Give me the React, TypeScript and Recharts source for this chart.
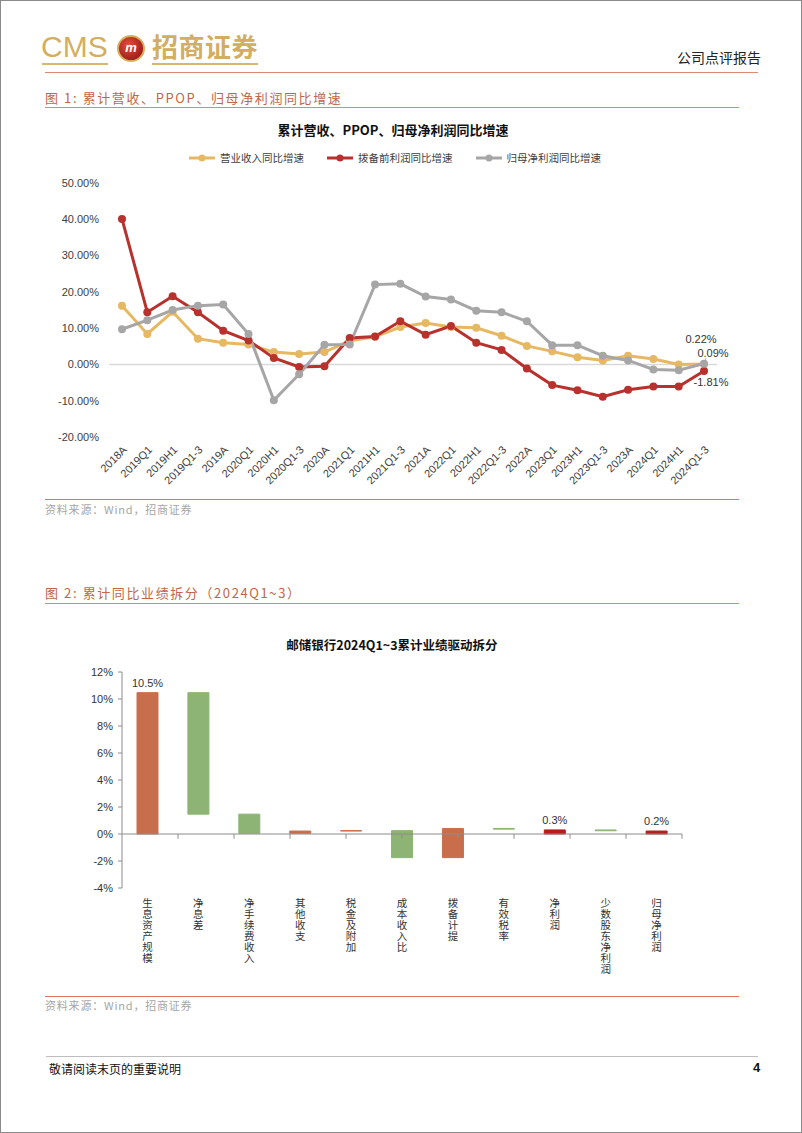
import React from 'react';
import { LineChart, Line, XAxis, YAxis, ReferenceLine, BarChart, Bar, Cell, LabelList } from 'recharts';

// 图1: 累计同比增速 (%)
const periods = [
  '2018A', '2019Q1', '2019H1', '2019Q1-3', '2019A', '2020Q1', '2020H1', '2020Q1-3',
  '2020A', '2021Q1', '2021H1', '2021Q1-3', '2021A', '2022Q1', '2022H1', '2022Q1-3',
  '2022A', '2023Q1', '2023H1', '2023Q1-3', '2023A', '2024Q1', '2024H1', '2024Q1-3',
];
const revenueYoy = [16.2, 8.4, 14.5, 7.1, 6.0, 5.5, 3.4, 2.9, 3.4, 6.5, 7.6, 10.3, 11.4, 10.3, 10.1, 7.9, 5.1, 3.6, 2.0, 1.1, 2.4, 1.5, 0.0, 0.09];
const ppopYoy = [40.1, 14.4, 18.8, 14.4, 9.3, 6.6, 1.8, -0.7, -0.5, 7.3, 7.7, 11.9, 8.2, 10.6, 6.0, 4.0, -1.1, -5.7, -7.1, -8.9, -7.0, -6.1, -6.1, -1.81];
const netProfitYoy = [9.7, 12.2, 15.0, 16.2, 16.5, 8.4, -9.9, -2.7, 5.4, 5.5, 22.0, 22.2, 18.7, 17.9, 14.8, 14.4, 11.9, 5.3, 5.3, 2.4, 1.1, -1.4, -1.6, 0.22];
const lineTicks = [-20, -10, 0, 10, 20, 30, 40, 50];

// 图2: 业绩驱动拆分 (%)
const driverNames = ['生息资产规模', '净息差', '净手续费收入', '其他收支', '税金及附加', '成本收入比', '拨备计提', '有效税率', '净利润', '少数股东净利润', '归母净利润'];
const driverValues = [10.47, -9.0, -1.42, 0.17, 0.03, -2.0, 2.16, -0.05, 0.3, -0.06, 0.22];
const driverKinds = ['step', 'step', 'step', 'step', 'step', 'step', 'step', 'step', 'total', 'step', 'total'];
const driverLabels = ['10.5%', '', '', '', '', '', '', '', '0.3%', '', '0.2%'];
const barTicks = [-4, -2, 0, 2, 4, 6, 8, 10, 12];

const YELLOW = '#E6B862';
const RED = '#B8312D';
const GRAY = '#A6A6A6';
const UP = '#C96E4D';
const DOWN = '#8DB475';
const TOTAL = '#B71C1C';
const LINE = '#DB8A70';

const NUM_FONT = '"Liberation Sans", Arial, sans-serif';
const CJK_FONT = '"Noto Sans CJK SC", "Noto Sans", sans-serif';

const lineData = periods.map((p, i) => ({
  period: p,
  revenue: revenueYoy[i],
  ppop: ppopYoy[i],
  net: netProfitYoy[i],
}));

let running = 0;
const barData = driverNames.map((name, i) => {
  const v = driverValues[i];
  let range: number[];
  if (driverKinds[i] === 'total') {
    range = [0, v];
    running = v;
  } else {
    range = [running, running + v];
    running += v;
  }
  const color = driverKinds[i] === 'total' ? TOTAL : v >= 0 ? UP : DOWN;
  return { name, range, label: driverLabels[i], color };
});

const endLabel = (dx: number, dy: number, leader = false) => (props: any) => {
  const { x, y, value, index } = props;
  if (index !== periods.length - 1) return null;
  return (
    <g>
      {leader && <line x1={x + 2} y1={y + dy + 4} x2={x + 1} y2={y - 3} stroke="#999" strokeWidth={0.8} />}
      <text x={x + dx} y={y + dy} textAnchor="middle" dominantBaseline="middle" fontSize={11} fill="#333" fontFamily={NUM_FONT}>
        {`${value.toFixed(2)}%`}
      </text>
    </g>
  );
};

// category names are written top-to-bottom
const VerticalTick = (props: any) => {
  const { x, y, payload } = props;
  return (
    <text x={x} y={y + 2} fontSize={10.5} fill="#333" fontFamily={CJK_FONT}
      style={{ writingMode: 'vertical-rl', letterSpacing: 0.4 }}>
      {payload.value}
    </text>
  );
};

const abs = (left: number, top: number, extra: React.CSSProperties = {}): React.CSSProperties => ({
  position: 'absolute', left, top, whiteSpace: 'nowrap', ...extra,
});

const LegendItem = ({ color, text }: { color: string; text: string }) => (
  <div style={{ display: 'flex', alignItems: 'center', marginRight: 22 }}>
    <svg width={28} height={10}>
      <line x1={1} y1={5} x2={27} y2={5} stroke={color} strokeWidth={3} />
      <circle cx={14} cy={5} r={3.5} fill={color} />
    </svg>
    <span style={{ fontSize: 10.5, color: '#404040', marginLeft: 4, fontFamily: CJK_FONT }}>{text}</span>
  </div>
);

export default function App() {
  return (
    <div style={{ position: 'absolute', left: 0, top: 0, width: 802, height: 1133, background: '#fff', border: '1px solid #8a8a8a', boxSizing: 'border-box', fontFamily: CJK_FONT, overflow: 'hidden' }}>
      {/* header */}
      <div style={abs(40, 30, { fontSize: 30, color: '#D3AE60', fontFamily: NUM_FONT, lineHeight: '32px' })}>CMS</div>
      <div style={abs(41, 62, { width: 66, height: 2, background: '#D8B66E' })} />
      <div style={abs(116, 34, { width: 28, height: 27, borderRadius: '50%', background: 'radial-gradient(circle at 40% 35%, #E2503C, #A3201C 70%)', border: '2px solid #D9AE5A', boxSizing: 'border-box', color: '#fff', fontSize: 13, fontWeight: 700, fontStyle: 'italic', textAlign: 'center', lineHeight: '22px', fontFamily: NUM_FONT })}>m</div>
      <div style={abs(151, 30, { fontSize: 26, fontWeight: 700, color: '#D3AE60', lineHeight: '30px', letterSpacing: 0.5 })}>招商证券</div>
      <div style={abs(151, 62, { width: 106, height: 2, background: '#D8B66E' })} />
      <div style={abs(676, 48, { fontSize: 14, color: '#222', lineHeight: '16px' })}>公司点评报告</div>
      <div style={abs(44, 71, { width: 713, height: 1, background: LINE })} />

      {/* figure 1 */}
      <div style={abs(44, 89, { fontSize: 13, color: '#C0664A', lineHeight: '16px', letterSpacing: 1.6 })}>图 1:  累计营收、PPOP、归母净利润同比增速</div>
      <div style={abs(44, 106, { width: 694, height: 1, background: LINE })} />
      <div style={abs(0, 121, { width: 784, textAlign: 'center', fontSize: 13, fontWeight: 700, color: '#111', lineHeight: '16px' })}>累计营收、PPOP、归母净利润同比增速</div>
      <div style={abs(187, 150, { display: 'flex', lineHeight: '14px' })}>
        <LegendItem color={YELLOW} text="营业收入同比增速" />
        <LegendItem color={RED} text="拨备前利润同比增速" />
        <LegendItem color={GRAY} text="归母净利润同比增速" />
      </div>
      <div style={abs(0, 110)}>
        <LineChart width={802} height={390} data={lineData} margin={{ top: 72, right: 86, left: 0, bottom: 4 }}>
          <XAxis dataKey="period" axisLine={false} tickLine={false} interval={0} angle={-45} textAnchor="end" height={60}
            padding={{ left: 13, right: 13 }} tick={{ fontSize: 11, fill: '#404040', fontFamily: NUM_FONT }} />
          <YAxis domain={[-20, 50]} ticks={lineTicks} axisLine={false} tickLine={false} width={108} tickMargin={4}
            tickFormatter={(v: number) => `${v.toFixed(2)}%`} tick={{ fontSize: 11, fill: '#404040', fontFamily: NUM_FONT }} />
          <ReferenceLine y={0} stroke="#D9D9D9" strokeWidth={1.5} />
          <Line dataKey="revenue" stroke={YELLOW} strokeWidth={3} dot={{ r: 4, fill: YELLOW, stroke: YELLOW, strokeWidth: 0 }} isAnimationActive={false} label={endLabel(9, -10, true)} />
          <Line dataKey="ppop" stroke={RED} strokeWidth={3} dot={{ r: 4, fill: RED, stroke: RED, strokeWidth: 0 }} isAnimationActive={false} label={endLabel(7, 12)} />
          <Line dataKey="net" stroke={GRAY} strokeWidth={3} dot={{ r: 4, fill: GRAY, stroke: GRAY, strokeWidth: 0 }} isAnimationActive={false} label={endLabel(-3, -24)} />
        </LineChart>
      </div>
      <div style={abs(44, 498, { width: 694, height: 1, background: '#E0745A' })} />
      <div style={abs(44, 501, { fontSize: 11, color: '#A6A6A6', lineHeight: '14px', letterSpacing: 0.8 })}>资料来源：Wind，招商证券</div>

      {/* figure 2 */}
      <div style={abs(44, 584, { fontSize: 13, color: '#C0664A', lineHeight: '16px', letterSpacing: 1.6 })}>图 2:  累计同比业绩拆分（2024Q1~3）</div>
      <div style={abs(44, 602, { width: 694, height: 1, background: LINE })} />
      <div style={abs(0, 636, { width: 782, textAlign: 'center', fontSize: 12.5, fontWeight: 700, color: '#111', lineHeight: '15px' })}>邮储银行2024Q1~3累计业绩驱动拆分</div>
      <div style={abs(0, 620)}>
        <BarChart width={802} height={380} data={barData} margin={{ top: 51, right: 121, left: 0, bottom: 3 }}>
          <XAxis xAxisId="cat" dataKey="name" axisLine={false} tickLine={false} interval={0} height={110} tick={<VerticalTick />} />
          <XAxis xAxisId="num" type="number" domain={[0, driverNames.length]} hide />
          <YAxis domain={[-4, 12]} ticks={barTicks} width={121} tickSize={4} tickMargin={5}
            axisLine={{ stroke: '#8C8C8C' }} tickLine={{ stroke: '#8C8C8C' }}
            tickFormatter={(v: number) => `${v}%`} tick={{ fontSize: 11, fill: '#333', fontFamily: NUM_FONT }} />
          <Bar xAxisId="cat" dataKey="range" barSize={21} isAnimationActive={false}>
            {barData.map((d, i) => (
              <Cell key={i} fill={d.color} stroke={d.color} strokeWidth={1} />
            ))}
            <LabelList dataKey="label" position="top" offset={6} fontSize={11} fill="#333" fontFamily={NUM_FONT} />
          </Bar>
          <ReferenceLine xAxisId="cat" y={0} stroke="#8C8C8C" strokeWidth={1} />
          {driverNames.map((_, k) => (
            <ReferenceLine key={k} xAxisId="num" segment={[{ x: k + 1, y: 0 }, { x: k + 1, y: -0.35 }]} stroke="#8C8C8C" strokeWidth={1} />
          ))}
        </BarChart>
      </div>
      <div style={abs(44, 995, { width: 694, height: 1, background: '#E0745A' })} />
      <div style={abs(44, 997, { fontSize: 11, color: '#A6A6A6', lineHeight: '14px', letterSpacing: 0.8 })}>资料来源：Wind，招商证券</div>

      {/* footer */}
      <div style={abs(45, 1055, { width: 712, height: 1, background: '#BDBDBD' })} />
      <div style={abs(48, 1060, { fontSize: 12, color: '#111', lineHeight: '15px' })}>敬请阅读末页的重要说明</div>
      <div style={abs(752, 1059, { fontSize: 13, fontWeight: 700, color: '#111', fontFamily: NUM_FONT, lineHeight: '16px' })}>4</div>
    </div>
  );
}
